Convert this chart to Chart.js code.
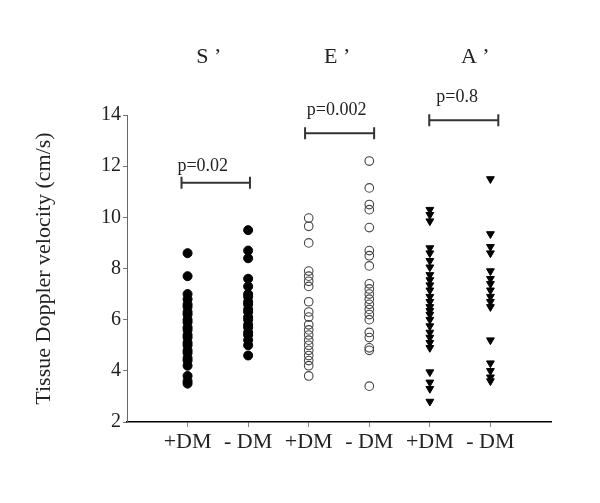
<!DOCTYPE html>
<html lang="en">

<head>
    <meta charset="UTF-8">
    <title>Tissue Doppler velocity</title>
    <script src="https://cdn.jsdelivr.net/npm/chart.js"></script>
    <style>
        body { margin: 0; background: white; }
    </style>
</head>

<body>
    <canvas id="myChart" width="600" height="503"></canvas>
</body>

</html>
<script>
    // columns on the x axis
    var xLabels = ['+DM', '- DM', '+DM', '- DM', '+DM', '- DM'];
    var yTicks = [2, 4, 6, 8, 10, 12, 14];

    // velocities (cm/s)
    var sPlusDM = [8.6, 7.7, 7.0, 6.8, 6.6, 6.5, 6.3, 6.2, 6.0, 5.9, 5.7, 5.6, 5.4, 5.3, 5.1, 5.0, 4.8, 4.7, 4.5, 4.4, 4.2, 3.8, 3.6, 3.5];
    var sMinusDM = [9.5, 8.7, 8.4, 7.6, 7.3, 7.0, 6.9, 6.7, 6.6, 6.4, 6.3, 6.1, 6.0, 5.8, 5.7, 5.5, 5.4, 5.2, 5.0, 4.6];
    var ePlusDM = [9.97, 9.65, 9.0, 7.9, 7.7, 7.5, 7.3, 6.7, 6.3, 6.1, 5.8, 5.6, 5.4, 5.2, 5.0, 4.8, 4.6, 4.4, 4.2, 3.8];
    var eMinusDM = [12.2, 11.15, 10.5, 10.3, 9.6, 8.7, 8.5, 8.1, 7.4, 7.2, 7.0, 6.8, 6.6, 6.4, 6.2, 6.0, 5.5, 5.3, 4.9, 4.8, 3.4];
    var aPlusDM = [10.3, 10.1, 9.85, 8.8, 8.6, 8.3, 8.05, 7.75, 7.55, 7.35, 7.15, 6.9, 6.7, 6.5, 6.35, 6.2, 6.0, 5.75, 5.5, 5.3, 5.1, 4.9, 3.95, 3.55, 3.3, 2.8];
    var aMinusDM = [11.5, 9.35, 8.85, 8.6, 7.9, 7.6, 7.4, 7.15, 6.9, 6.7, 6.5, 5.2, 4.3, 4.0, 3.75, 3.6];

    // group headers and p values above the columns
    var groupNames = ['S \u2019', 'E \u2019', 'A \u2019'];
    var groupNameX = [1.35, 3.47, 5.75];
    var groupNameY = 16.26;
    var pLabels = ['p=0.02', 'p=0.002', 'p=0.8'];
    var pLabelX = [1.25, 3.46, 5.45];
    var pLabelY = [11.98, 14.2, 14.69];
    var bracketStart = [0.9, 2.94, 4.99];
    var bracketEnd = [2.03, 4.08, 6.13];
    var bracketY = [11.35, 13.29, 13.79];

    function pontos(coluna, valores) {
        return valores.map(function (v) { return { x: coluna, y: v }; });
    }

    var serif = 'Liberation Serif, Times New Roman, serif';

    // brackets, p values and group names drawn with the chart scales
    var anotacoes = {
        id: 'anotacoes',
        afterDraw: function (chart) {
            var ctx = chart.ctx;
            var x = chart.scales.x;
            var y = chart.scales.y;
            ctx.save();
            ctx.fillStyle = '#222';
            ctx.textAlign = 'center';
            ctx.textBaseline = 'middle';

            ctx.font = '22px ' + serif;
            for (var i = 0; i < groupNames.length; i++) {
                ctx.fillText(groupNames[i], x.getPixelForValue(groupNameX[i]), y.getPixelForValue(groupNameY));
            }

            ctx.font = '18px ' + serif;
            ctx.strokeStyle = '#333';
            ctx.lineWidth = 2;
            for (var j = 0; j < pLabels.length; j++) {
                ctx.fillText(pLabels[j], x.getPixelForValue(pLabelX[j]), y.getPixelForValue(pLabelY[j]));
                var x1 = x.getPixelForValue(bracketStart[j]);
                var x2 = x.getPixelForValue(bracketEnd[j]);
                var yy = y.getPixelForValue(bracketY[j]);
                ctx.beginPath();
                ctx.moveTo(x1, yy); ctx.lineTo(x2, yy);
                ctx.moveTo(x1, yy - 6); ctx.lineTo(x1, yy + 6);
                ctx.moveTo(x2, yy - 6); ctx.lineTo(x2, yy + 6);
                ctx.stroke();
            }
            ctx.restore();
        }
    };

    var circuloCheio = { pointStyle: 'circle', radius: 4.5, backgroundColor: '#000', borderColor: '#000', borderWidth: 1 };
    var circuloVazio = { pointStyle: 'circle', radius: 4.3, backgroundColor: 'rgba(0,0,0,0)', borderColor: '#444', borderWidth: 1.1 };
    var triangulo = { pointStyle: 'triangle', radius: 4.5, rotation: 180, backgroundColor: '#000', borderColor: '#000', borderWidth: 1 };

    var datasets = [
        Object.assign({ label: 'S +DM', data: pontos(1, sPlusDM) }, circuloCheio),
        Object.assign({ label: 'S -DM', data: pontos(2, sMinusDM) }, circuloCheio),
        Object.assign({ label: 'E +DM', data: pontos(3, ePlusDM) }, circuloVazio),
        Object.assign({ label: 'E -DM', data: pontos(4, eMinusDM) }, circuloVazio),
        Object.assign({ label: 'A +DM', data: pontos(5, aPlusDM) }, triangulo),
        Object.assign({ label: 'A -DM', data: pontos(6, aMinusDM) }, triangulo)
    ];

    var config = {
        type: 'scatter',
        data: { datasets: datasets },
        plugins: [anotacoes],
        options: {
            responsive: false,
            animation: false,
            layout: { padding: { left: 0, top: 115, right: 49, bottom: 0 } },
            plugins: { legend: { display: false }, tooltip: { enabled: false } },
            scales: {
                x: {
                    type: 'linear',
                    min: 0,
                    max: 7,
                    afterBuildTicks: function (scale) {
                        scale.ticks = xLabels.map(function (l, i) { return { value: i + 1 }; });
                    },
                    afterFit: function (scale) { scale.height = 81; },
                    ticks: {
                        color: '#222',
                        font: { family: serif, size: 22 },
                        padding: 2,
                        maxRotation: 0,
                        autoSkip: false,
                        callback: function (v) { return xLabels[v - 1]; }
                    },
                    grid: { drawOnChartArea: false, tickLength: 5, color: '#888' },
                    border: { color: '#000', width: 1.5 }
                },
                y: {
                    min: 2,
                    max: 14,
                    afterBuildTicks: function (scale) {
                        scale.ticks = yTicks.map(function (v) { return { value: v }; });
                    },
                    afterFit: function (scale) { scale.width = 127; },
                    ticks: {
                        color: '#222',
                        font: { family: serif, size: 20 },
                        padding: 2
                    },
                    grid: { drawOnChartArea: false, tickLength: 4, color: '#777' },
                    border: { color: '#666', width: 1 },
                    title: {
                        display: true,
                        text: 'Tissue Doppler velocity (cm/s)',
                        color: '#222',
                        font: { family: serif, size: 22 },
                        padding: { top: 31, bottom: 0 }
                    }
                }
            }
        }
    };

    var myChart = new Chart(document.getElementById('myChart'), config);
</script>
